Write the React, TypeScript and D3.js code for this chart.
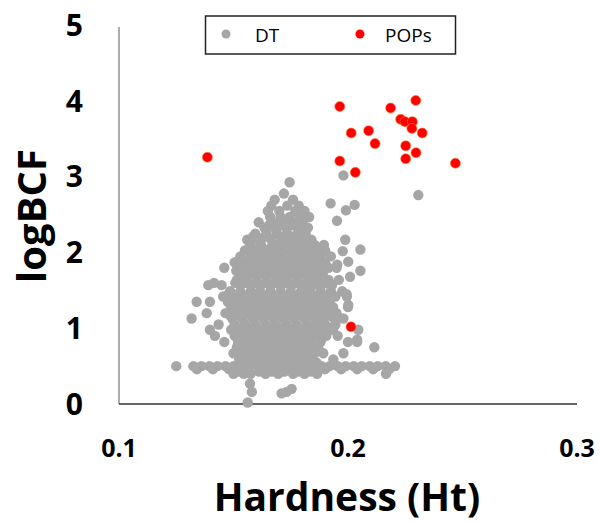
import React from "react";
import * as d3 from "d3";

const xTicks = [0.1, 0.2, 0.3];
const yTicks = [0, 1, 2, 3, 4, 5];
const seriesNames = ["DT", "POPs"];

const popsX = [0.1386, 0.1964, 0.2186, 0.2296, 0.223, 0.2249, 0.2281, 0.2279, 0.2324, 0.2014, 0.209, 0.2118, 0.2252, 0.2297, 0.2252, 0.1964, 0.2032, 0.2469, 0.2013];
const popsY = [3.26, 3.93, 3.91, 4.01, 3.76, 3.73, 3.73, 3.64, 3.58, 3.58, 3.61, 3.44, 3.41, 3.32, 3.24, 3.21, 3.06, 3.18, 1.02];

// DT points read row by row: [logBCF, [hardness values]]
const dtRows: [number, number[]][] = [
  [2.93, [0.1745]],
  [2.78, [0.172]],
  [2.7, [0.168, 0.176]],
  [2.62, [0.1665, 0.1735, 0.1785]],
  [2.55, [0.165, 0.17, 0.177, 0.181]],
  [2.47, [0.166, 0.1705, 0.1745, 0.179, 0.183]],
  [2.4, [0.161, 0.167, 0.1715, 0.1755, 0.18]],
  [2.36, [0.1655, 0.1705, 0.1755, 0.18]],
  [2.33, [0.1635, 0.168, 0.173, 0.178, 0.1825]],
  [2.25, [0.1595, 0.1645, 0.169, 0.1735, 0.178, 0.1815]],
  [2.21, [0.1585, 0.1635, 0.1712, 0.1758, 0.1802]],
  [2.17, [0.156, 0.161, 0.1665, 0.171, 0.1755, 0.1795, 0.184]],
  [2.1, [0.1575, 0.162, 0.168, 0.173, 0.177, 0.181, 0.1855, 0.1895]],
  [2.06, [0.1572, 0.1618, 0.1662, 0.1708, 0.1748, 0.1792, 0.1835, 0.1878]],
  [2.03, [0.155, 0.1595, 0.164, 0.1685, 0.1725, 0.1765, 0.181, 0.186, 0.19]],
  [1.95, [0.153, 0.1575, 0.162, 0.1665, 0.171, 0.1755, 0.1795, 0.184, 0.188, 0.1925]],
  [1.91, [0.1528, 0.1572, 0.1612, 0.1658, 0.1702, 0.1748, 0.1792, 0.1835, 0.1878]],
  [1.87, [0.1505, 0.155, 0.159, 0.1635, 0.168, 0.1725, 0.177, 0.1815, 0.1855, 0.19]],
  [1.8, [0.146, 0.152, 0.1565, 0.161, 0.1655, 0.17, 0.1745, 0.179, 0.183, 0.1875, 0.1915, 0.195]],
  [1.76, [0.1512, 0.1558, 0.1602, 0.1648, 0.1692, 0.1738, 0.1782, 0.1828, 0.1872]],
  [1.72, [0.1535, 0.158, 0.1625, 0.167, 0.1715, 0.176, 0.1805, 0.185, 0.189]],
  [1.64, [0.1515, 0.1555, 0.16, 0.1645, 0.169, 0.1735, 0.178, 0.1825, 0.187, 0.1915, 0.196]],
  [1.6, [0.1508, 0.1552, 0.1598, 0.1642, 0.1688, 0.1732, 0.1778, 0.1822, 0.1866, 0.1908]],
  [1.57, [0.139, 0.1448, 0.153, 0.1575, 0.162, 0.1665, 0.171, 0.1755, 0.18, 0.1845, 0.1885, 0.193]],
  [1.49, [0.1485, 0.153, 0.1575, 0.1615, 0.166, 0.1705, 0.175, 0.1795, 0.1835, 0.188, 0.1925, 0.1975]],
  [1.45, [0.1478, 0.1522, 0.1572, 0.1618, 0.1662, 0.1708, 0.1748, 0.1792, 0.1838, 0.1882, 0.1922]],
  [1.42, [0.1455, 0.15, 0.155, 0.1595, 0.164, 0.1685, 0.1725, 0.177, 0.1815, 0.186, 0.19, 0.1945, 0.1995]],
  [1.35, [0.1339, 0.1397, 0.1475, 0.152, 0.1565, 0.161, 0.1655, 0.17, 0.1745, 0.179, 0.1835, 0.188, 0.192]],
  [1.31, [0.1512, 0.1558, 0.1602, 0.1648, 0.1692, 0.1738, 0.1782, 0.1828, 0.1872, 0.1912]],
  [1.28, [0.149, 0.1535, 0.158, 0.1625, 0.167, 0.1715, 0.176, 0.1805, 0.185, 0.189, 0.1935, 0.2]],
  [1.2, [0.1383, 0.1465, 0.151, 0.1555, 0.16, 0.1645, 0.169, 0.1735, 0.178, 0.1825, 0.187, 0.191, 0.195]],
  [1.16, [0.1488, 0.1532, 0.1578, 0.1622, 0.1668, 0.1712, 0.1758, 0.1802, 0.1848, 0.1888, 0.1928]],
  [1.13, [0.1317, 0.1495, 0.154, 0.1585, 0.163, 0.1675, 0.172, 0.1765, 0.181, 0.1855, 0.1895, 0.194, 0.198]],
  [1.05, [0.1435, 0.1505, 0.155, 0.1595, 0.164, 0.1685, 0.173, 0.1775, 0.182, 0.186, 0.19, 0.1945]],
  [1.01, [0.1512, 0.1558, 0.1602, 0.1648, 0.1692, 0.1738, 0.1782, 0.1828, 0.1872, 0.1912]],
  [0.98, [0.1397, 0.149, 0.1535, 0.158, 0.1625, 0.167, 0.1715, 0.176, 0.1805, 0.185, 0.189, 0.1935, 0.2045]],
  [0.9, [0.1419, 0.1505, 0.155, 0.1595, 0.164, 0.1685, 0.173, 0.1775, 0.182, 0.1865, 0.1905, 0.1955]],
  [0.86, [0.1528, 0.1572, 0.1618, 0.1662, 0.1708, 0.1752, 0.1798, 0.1842, 0.1885]],
  [0.82, [0.146, 0.152, 0.1565, 0.161, 0.1655, 0.17, 0.1745, 0.179, 0.1835, 0.188, 0.2, 0.204]],
  [0.75, [0.1515, 0.1555, 0.16, 0.1645, 0.169, 0.1735, 0.178, 0.1825, 0.187, 0.2115]],
  [0.71, [0.1522, 0.1568, 0.1612, 0.1658, 0.1702, 0.1748, 0.1792, 0.1835]],
  [0.67, [0.15, 0.154, 0.1585, 0.163, 0.1675, 0.172, 0.1765, 0.181, 0.1855, 0.1892, 0.198]],
  [0.59, [0.1525, 0.157, 0.1615, 0.166, 0.1705, 0.175, 0.1795, 0.184, 0.1936]],
  [0.55, [0.1545, 0.1592, 0.1638, 0.1682, 0.1728, 0.1772, 0.1818, 0.1862]],
  [0.5, [0.125, 0.1325, 0.136, 0.1395, 0.143, 0.1465, 0.15, 0.1535, 0.157, 0.1605, 0.164, 0.1675, 0.171, 0.1745, 0.178, 0.1815, 0.185, 0.1885, 0.192, 0.1955, 0.199, 0.2025, 0.206, 0.2095, 0.213, 0.2165, 0.2205]],
  [0.46, [0.134, 0.141, 0.148, 0.155, 0.162, 0.169, 0.176, 0.183, 0.19, 0.197, 0.204, 0.211, 0.218]],
  [0.43, [0.1518, 0.1562, 0.1612, 0.1668, 0.1722, 0.1785, 0.1838]],
  [0.4, [0.15, 0.1545, 0.1575, 0.164, 0.1695, 0.176, 0.181, 0.1865, 0.2166]],
  [0.27, [0.1572]],
  [0.2, [0.1754]],
  [0.16, [0.158, 0.1732]],
  [0.14, [0.171]],
  [0.02, [0.1562]],
];

const dtOutliersX = [0.198, 0.1924, 0.1991, 0.2029, 0.1952, 0.1988, 0.1977, 0.2054, 0.2001, 0.1953, 0.2054, 0.2009, 0.1507, 0.2307, 0.2001, 0.1994, 0.204, 0.1415];
const dtOutliersY = [3.02, 2.65, 2.56, 2.63, 2.42, 2.17, 2.02, 2.04, 1.88, 1.84, 1.76, 1.68, 1.87, 2.76, 1.31, 1.45, 0.85, 1.6];

const W = 600;
const H = 523;

export default function App() {
  const x = d3.scaleLinear().domain([0.1, 0.3]).range([119, 577]);
  const y = d3.scaleLinear().domain([0, 5]).range([404, 25.5]);

  const dt: [number, number][] = [];
  dtRows.forEach(([yy, xs]) => xs.forEach((xx) => dt.push([xx, yy])));
  dtOutliersX.forEach((xx, i) => dt.push([xx, dtOutliersY[i]]));
  const pops: [number, number][] = popsX.map((xx, i) => [xx, popsY[i]]);

  const font = "'Open Sans', 'Noto Sans', sans-serif";

  return (
    <svg
      width={W}
      height={H}
      style={{ position: "absolute", left: 0, top: 0, background: "#fff" }}
      fontFamily={font}
    >
      {/* axes */}
      <line x1={x(0.1)} x2={x(0.1)} y1={y(0)} y2={27} stroke="#808080" strokeWidth={1.3} />
      <line x1={x(0.1)} x2={x(0.3)} y1={y(0)} y2={y(0)} stroke="#333" strokeWidth={1.3} />

      {/* y tick labels */}
      {yTicks.map((t) => (
        <text key={t} x={83} y={y(t)} dy={10.5} textAnchor="end" fontSize={30} fontWeight="bold" fill="#000">
          {t}
        </text>
      ))}
      {/* x tick labels */}
      {xTicks.map((t) => (
        <text key={t} x={x(t)} y={457} textAnchor="middle" fontSize={25} fontWeight="bold" fill="#000">
          {d3.format(".1f")(t)}
        </text>
      ))}

      {/* axis titles */}
      <text x={347} y={511} textAnchor="middle" fontSize={39} fontWeight="bold" fill="#000">
        Hardness (Ht)
      </text>
      <text
        transform={`translate(46,${216}) rotate(-90)`}
        textAnchor="middle"
        fontSize={40}
        fontWeight="bold"
        fill="#000"
      >
        logBCF
      </text>

      {/* points */}
      {dt.map((p, i) => (
        <circle key={"d" + i} cx={x(p[0])} cy={y(p[1])} r={5.2} fill="#A6A6A6" />
      ))}
      {pops.map((p, i) => (
        <circle key={"p" + i} cx={x(p[0])} cy={y(p[1])} r={5} fill="#FF0000" stroke="#FF7A30" strokeWidth={0.6} />
      ))}

      {/* legend */}
      <rect x={205.5} y={16} width={250} height={38} fill="#fff" stroke="#222" strokeWidth={1.5} />
      <circle cx={226} cy={34} r={4.5} fill="#A6A6A6" />
      <text x={255} y={42} fontSize={19} fill="#000">
        {seriesNames[0]}
      </text>
      <circle cx={360} cy={34} r={4.5} fill="#FF0000" />
      <text x={385} y={42} fontSize={19} fill="#000">
        {seriesNames[1]}
      </text>
    </svg>
  );
}
